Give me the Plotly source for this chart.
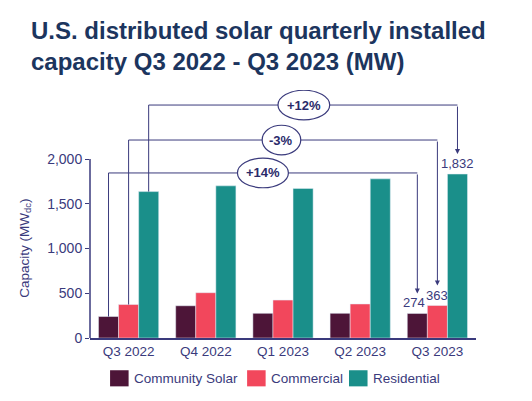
import plotly.graph_objects as go

quarters = ['Q3 2022', 'Q4 2022', 'Q1 2023', 'Q2 2023', 'Q3 2023']
community = [240, 360, 276, 276, 274]
commercial = [374, 506, 424, 380, 363]
residential = [1636, 1700, 1671, 1778, 1832]
changes = ['+14%', '-3%', '+12%']

navy = '#3a3a7c'
title_col = '#1c355e'
colors = ['#4d1538', '#f2475c', '#1a8f8a']
names = ['Community Solar', 'Commercial', 'Residential']
series = [community, commercial, residential]

fig = go.Figure()
for name, vals, col in zip(names, series, colors):
    fig.add_trace(go.Bar(x=quarters, y=vals, name=name, marker_color=col,
                         hoverinfo='x+y+name'))

bargap = 0.22
w = (1 - bargap) / 3
offsets = [-w, 0, w]
last = len(quarters) - 1

# bracket heights (MW) and ellipse placement for the change labels
levels = [1844, 2212, 2603]
ell_cx = [1.74, 1.98, 2.27]
ell_hw = [0.33, 0.25, 0.335]
ell_hh = 165

shapes = []
annotations = []
for i, vals in enumerate(series):
    x0 = 0 + offsets[i]
    x1 = last + offsets[i]
    lv = levels[i]
    shapes.append(dict(type='line', xref='x', yref='y', x0=x0, x1=x0,
                       y0=vals[0], y1=lv, line=dict(color=navy, width=1), layer='above'))
    shapes.append(dict(type='line', xref='x', yref='y', x0=x0, x1=x1,
                       y0=lv, y1=lv, line=dict(color=navy, width=1), layer='above'))
    annotations.append(dict(x=x1, y=vals[last], ax=x1, ay=lv, xref='x', yref='y',
                            axref='x', ayref='y', showarrow=True, arrowhead=2,
                            arrowsize=1, arrowwidth=1, arrowcolor=navy,
                            standoff=20, text=''))
    annotations.append(dict(x=x1, y=vals[last], xref='x', yref='y', text=f'{vals[last]:,}',
                            showarrow=False, yanchor='bottom', yshift=1,
                            xshift=-3 if i == 0 else 0,
                            font=dict(size=13, color=navy)))

for i, txt in enumerate(changes):
    shapes.append(dict(type='circle', xref='x', yref='y',
                       x0=ell_cx[i] - ell_hw[i], x1=ell_cx[i] + ell_hw[i],
                       y0=levels[i] - ell_hh, y1=levels[i] + ell_hh,
                       line=dict(color=navy, width=1.2), fillcolor='white', layer='above'))
    annotations.append(dict(x=ell_cx[i], y=levels[i], xref='x', yref='y', text=f'<b>{txt}</b>',
                            showarrow=False, font=dict(size=13, color='#2a2a6a')))

# y axis line only up to 2,000
shapes.append(dict(type='line', xref='paper', yref='y', x0=0, x1=0, y0=0, y1=2000,
                   line=dict(color=navy, width=1.5)))

annotations.append(dict(xref='paper', yref='y', x=-0.168, y=1000, textangle=-90,
                        xanchor='center', yanchor='middle',
                        text='Capacity (MW<sub>dc</sub>)', showarrow=False,
                        font=dict(size=13.5, color=navy)))

# title
annotations.append(dict(xref='paper', yref='paper', x=-0.158, y=1.302,
                        xanchor='left', yanchor='top', align='left', showarrow=False,
                        text='<b>U.S. distributed solar quarterly installed<br>'
                             'capacity Q3 2022 - Q3 2023 (MW)</b>',
                        font=dict(size=24, color=title_col)))

# legend drawn by hand (larger swatches than plotly's own)
leg_sq_x = [0.052, 0.407, 0.671]
leg_sq_w = 0.048
for name, col, lx in zip(names, colors, leg_sq_x):
    shapes.append(dict(type='rect', xref='paper', yref='paper', x0=lx, x1=lx + leg_sq_w,
                       y0=-0.195, y1=-0.13, fillcolor=col, line=dict(width=0)))
    annotations.append(dict(xref='paper', yref='paper', x=lx + leg_sq_w + 0.008, y=-0.1625,
                            xanchor='left', yanchor='middle', showarrow=False, text=name,
                            font=dict(size=13.5, color=navy)))

fig.update_layout(
    width=516, height=385,
    margin=dict(l=82, r=48, t=82, b=55),
    paper_bgcolor='white', plot_bgcolor='white',
    font=dict(family='Liberation Sans, Arial, sans-serif', color=navy),
    barmode='group', bargap=bargap, bargroupgap=0,
    showlegend=False,
    shapes=shapes, annotations=annotations,
)
fig.update_xaxes(showline=True, linecolor=navy, linewidth=1.5, ticks='',
                 tickfont=dict(size=13.5, color=navy), showgrid=False)
fig.update_yaxes(range=[0, 2771], tickvals=[0, 500, 1000, 1500, 2000], tickformat=',',
                 ticks='outside', ticklen=4, tickcolor=navy, tickwidth=1.2,
                 showline=False, showgrid=False, zeroline=False,
                 tickfont=dict(size=14, color=navy))

fig.write_html('out.html')
